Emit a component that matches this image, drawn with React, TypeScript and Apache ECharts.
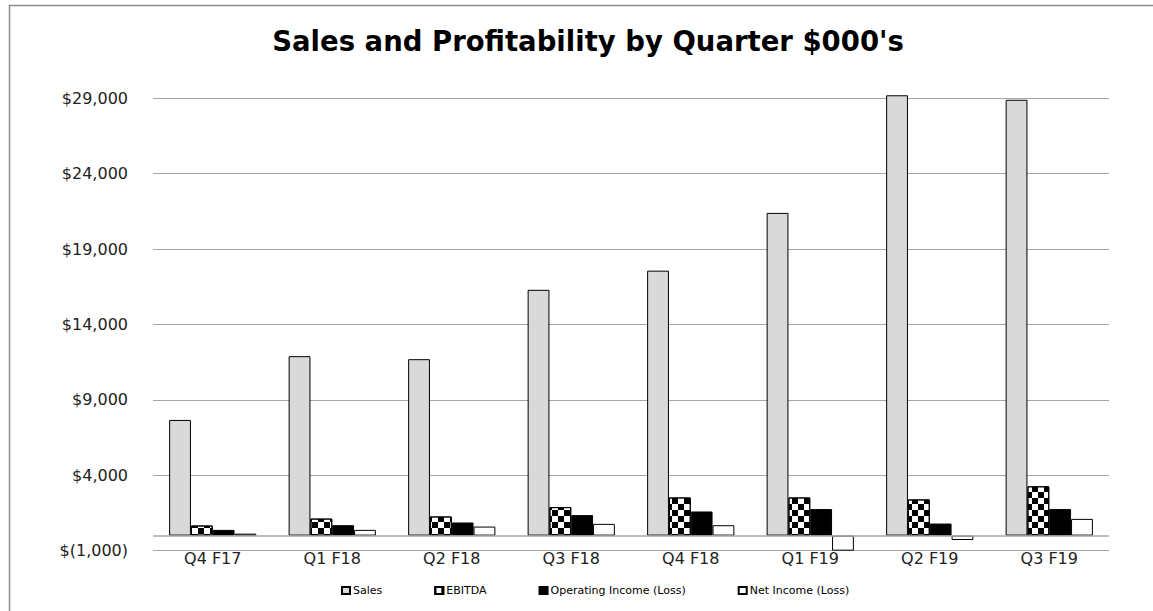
import React, { useEffect, useRef } from "react";
import * as echarts from "echarts";

const categories = ["Q4 F17", "Q1 F18", "Q2 F18", "Q3 F18", "Q4 F18", "Q1 F19", "Q2 F19", "Q3 F19"];
const sales = [7670, 11900, 11700, 16300, 17570, 21400, 29200, 28900];
const ebitda = [670, 1130, 1270, 1890, 2530, 2530, 2400, 3270];
const operatingIncome = [380, 690, 870, 1360, 1600, 1760, 800, 1760];
const netIncome = [130, 380, 600, 780, 690, -1000, -290, 1110];
const seriesNames = ["Sales", "EBITDA", "Operating Income (Loss)", "Net Income (Loss)"];
const chartTitle = "Sales and Profitability by Quarter $000's";

const fmt = (v: number) => {
  const s = Math.abs(v).toLocaleString("en-US");
  return v < 0 ? `$(${s})` : `$${s}`;
};

export default function App() {
  const ref = useRef<HTMLDivElement>(null);
  useEffect(() => {
    if (!ref.current) return;
    const chart = echarts.init(ref.current, null, { renderer: "svg" });
    const font = "DejaVu Sans";
    const border = { borderColor: "#000", borderWidth: 1 };
    chart.setOption({
      animation: false,
      backgroundColor: "#fff",
      title: {
        text: chartTitle,
        left: 583,
        top: 22,
        textAlign: "center",
        textStyle: { fontFamily: font, fontWeight: "bold", fontSize: 27.5, color: "#000" },
      },
      legend: {
        left: 336,
        top: 580,
        itemWidth: 8,
        itemHeight: 7,
        itemGap: 52,
        icon: "rect",
        textStyle: { fontFamily: font, fontSize: 11, color: "#000", padding: [0, 0, 0, -2] },
        data: seriesNames,
      },
      grid: { left: 153, right: 44, top: 83.2, bottom: 60.3, containLabel: false },
      xAxis: {
        type: "category",
        data: categories,
        axisLine: { show: false, onZero: false },
        axisTick: { show: false },
        axisLabel: { fontFamily: font, fontSize: 16, color: "#222", margin: 0 },
      },
      yAxis: {
        type: "value",
        min: -1000,
        max: 30000,
        interval: 5000,
        axisLine: { show: false },
        axisTick: { show: false },
        axisLabel: {
          fontFamily: font,
          fontSize: 16,
          color: "#222",
          margin: 25,
          showMaxLabel: false,
          formatter: (v: number) => fmt(v),
        },
        splitLine: { show: true, showMaxLine: false, lineStyle: { color: "#a6a6a6", width: 1 } },
      },
      series: [
        {
          name: seriesNames[0],
          type: "bar",
          data: sales,
          barGap: "0%",
          barCategoryGap: "27%",
          itemStyle: { color: "#d9d9d9", ...border },
          markLine: {
            silent: true,
            symbol: "none",
            label: { show: false },
            lineStyle: { color: "#a6a6a6", width: 1.5, type: "solid" },
            data: [{ yAxis: 0 }],
          },
        },
        {
          name: seriesNames[1],
          type: "bar",
          data: ebitda,
          barGap: "0%",
          barCategoryGap: "27%",
          itemStyle: {
            color: "#fff",
            ...border,
            decal: {
              symbol: "rect",
              symbolSize: 1,
              color: "#000",
              backgroundColor: "#fff",
              dashArrayX: [[6, 6], [0, 6, 6, 0]],
              dashArrayY: [6, 0],
              rotation: 0,
            },
          },
        },
        {
          name: seriesNames[2],
          type: "bar",
          data: operatingIncome,
          barGap: "0%",
          barCategoryGap: "27%",
          itemStyle: { color: "#000", ...border },
        },
        {
          name: seriesNames[3],
          type: "bar",
          data: netIncome,
          barGap: "0%",
          barCategoryGap: "27%",
          itemStyle: { color: "#fff", ...border },
        },
      ],
      graphic: [
        { type: "line", shape: { x1: 9, y1: 5.5, x2: 1153, y2: 5.5 }, style: { stroke: "#8c8c8c", lineWidth: 1.5 } },
        { type: "line", shape: { x1: 9.5, y1: 5, x2: 9.5, y2: 611 }, style: { stroke: "#8c8c8c", lineWidth: 1.5 } },
      ],
    });
    return () => chart.dispose();
  }, []);
  return (
    <div
      ref={ref}
      style={{ position: "fixed", left: 0, top: 0, width: 1153, height: 611 }}
    />
  );
}
